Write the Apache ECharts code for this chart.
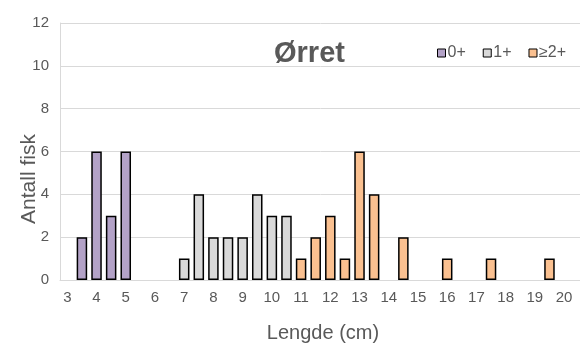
<!DOCTYPE html>
<html>
<head>
<meta charset="utf-8">
<script src="https://cdn.jsdelivr.net/npm/echarts@6/dist/echarts.min.js"></script>
<style>html,body{margin:0;padding:0;background:#fff}#c{width:580px;height:347px}</style>
</head>
<body>
<div id="c"></div>
<script>
const categories = [];
for (let i = 0; i < 36; i++) categories.push(String(3 + i * 0.5));
const seriesNames = ['0+', '1+', '≥2+'];
const len0 = [3.5, 4, 4.5, 5];
const cnt0 = [2, 6, 3, 6];
const len1 = [7, 7.5, 8, 8.5, 9, 9.5, 10, 10.5];
const cnt1 = [1, 4, 2, 2, 2, 4, 3, 3];
const len2 = [11, 11.5, 12, 12.5, 13, 13.5, 14.5, 16, 17.5, 19.5];
const cnt2 = [1, 2, 3, 1, 6, 4, 2, 1, 1, 1];
const colors = ['#b3a2c7', '#d9d9d9', '#fac090'];

function build(lens, cnts) {
  return categories.map(c => {
    const k = lens.indexOf(Number(c));
    return k >= 0 ? cnts[k] : null;
  });
}
const groups = [[len0, cnt0], [len1, cnt1], [len2, cnt2]];
const FF = 'Arial, "Liberation Sans", sans-serif';

const chart = echarts.init(document.getElementById('c'));
chart.setOption({
  animation: false,
  title: {
    text: 'Ørret', left: 269, top: 34,
    textStyle: { fontFamily: FF, fontSize: 29, fontWeight: 'bold', color: '#595959' }
  },
  legend: {
    left: 437, top: 45, padding: 0, itemWidth: 8, itemHeight: 8, itemGap: 17, icon: 'rect',
    itemStyle: { borderColor: '#000', borderWidth: 1 },
    textStyle: { fontFamily: FF, fontSize: 16, color: '#595959', padding: [0, 0, 0, -3] },
    data: seriesNames
  },
  grid: { left: 60, right: -6, top: 23, bottom: 67, containLabel: false, outerBoundsMode: 'none' },
  xAxis: {
    type: 'category', data: categories,
    axisLine: { show: true, lineStyle: { color: '#d9d9d9', width: 1 } },
    axisTick: { show: false },
    axisLabel: {
      interval: 1, margin: 10, color: '#595959', fontSize: 15, fontFamily: FF,
      formatter: v => String(Number(v))
    },
    name: 'Lengde (cm)', nameLocation: 'middle', nameGap: 43,
    nameTextStyle: { fontFamily: FF, fontSize: 20, color: '#595959' }
  },
  yAxis: {
    type: 'value', min: 0, max: 12, interval: 2,
    axisLine: { show: true, lineStyle: { color: '#d9d9d9', width: 1 } },
    axisTick: { show: false },
    splitLine: { lineStyle: { color: '#d9d9d9', width: 1 } },
    axisLabel: { margin: 11, color: '#595959', fontSize: 15, fontFamily: FF }
  },
  graphic: [{
    type: 'text', x: 29, y: 179, rotation: Math.PI / 2,
    style: { text: 'Antall fisk', fill: '#595959', fontSize: 21, fontFamily: FF, align: 'center', verticalAlign: 'middle' }
  }],
  series: groups.map((g, i) => ({
    name: seriesNames[i], type: 'bar', stack: 'all', barWidth: '72%',
    data: build(g[0], g[1]),
    itemStyle: { color: colors[i], borderColor: '#000', borderWidth: 1.5 }
  }))
});
</script>
</body>
</html>
